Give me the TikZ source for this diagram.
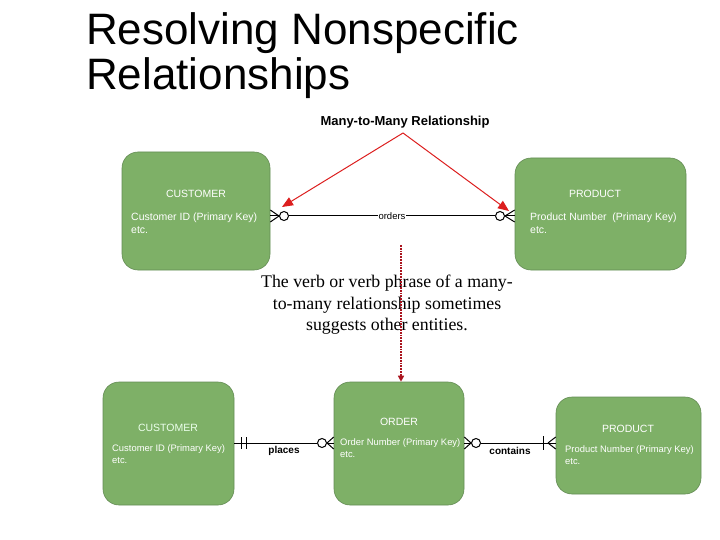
\documentclass[tikz,border=0pt]{standalone}
\usepackage{fontspec}
\setmainfont{Liberation Sans}
\newfontfamily\serifnote{Liberation Serif}
\usetikzlibrary{arrows.meta,calc}
\definecolor{boxgreen}{RGB}{126,176,103}
\definecolor{boxedge}{RGB}{100,140,85}
\definecolor{redarrow}{RGB}{220,30,30}
\definecolor{darkred}{RGB}{170,20,30}
\tikzset{
  entity/.style={draw=boxedge, line width=0.6pt, fill=boxgreen, rounded corners=16pt, inner sep=0pt},
  etitle/.style={text=white, font=\fontsize{10.5}{12}\selectfont, anchor=center},
  eattr/.style={text=white, font=\fontsize{10.5}{13}\selectfont, anchor=north west, align=left, inner sep=0pt},
  battr/.style={text=white, font=\fontsize{9.4}{12.5}\selectfont, anchor=north west, align=left, inner sep=0pt},
  rel/.style={black, line width=1pt},
  rlabel/.style={font=\bfseries\fontsize{10}{12}\selectfont, inner sep=1pt},
  redarr/.style={redarrow, line width=1pt, -{Triangle[length=11pt,width=9pt]}},
  ocircle/.style={draw=black, line width=1pt, fill=white, circle, minimum size=9pt, inner sep=0pt}
}
\begin{document}
\begin{tikzpicture}[x=1pt,y=-1pt]
\useasboundingbox (0,0) rectangle (720,540);
% title
\node[anchor=base west, inner sep=0pt, font=\fontsize{44}{46}\selectfont] (t1) at (86,45) {Resolving Nonspecific};
\node[anchor=base west, inner sep=0pt, font=\fontsize{44}{46}\selectfont] (t2) at (86,90) {Relationships};

% top entities
\node[entity, minimum width=148pt, minimum height=118pt] (c1) at (196,211) {};
\node[etitle] (c1t) at (196,194) {CUSTOMER};
\node[eattr] (c1a) at (131,213) {Customer ID (Primary Key)\\etc.};
\node[entity, minimum width=171pt, minimum height=112pt] (p1) at (600.5,214) {};
\node[etitle] (p1t) at (595,194) {PRODUCT};
\node[eattr] (p1a) at (530,213) {Product Number\ \ (Primary Key)\\etc.};

% orders relationship
\node[ocircle] (oc1) at (284,216) {};
\node[ocircle] (oc2) at (500,216) {};
\draw[rel] (oc1.east) -- node[fill=white, font=\fontsize{9.5}{12}\selectfont, inner sep=1pt] (ord) {orders} (oc2.west);
\draw[rel] (c1.east |- 0,216) -- (oc1.west);
\draw[rel] (oc1.west) -- (c1.east |- 0,210);
\draw[rel] (oc1.west) -- (c1.east |- 0,222);
\draw[rel] (oc2.east) -- (p1.west |- 0,216);
\draw[rel] (oc2.east) -- (p1.west |- 0,210);
\draw[rel] (oc2.east) -- (p1.west |- 0,222);

% many-to-many label and arrows
\node[font=\bfseries\fontsize{13}{15}\selectfont, inner sep=1pt] (mm) at (405,122) {Many-to-Many Relationship};
\coordinate (mmtip) at (403,133);
\coordinate (la) at (282,207);
\coordinate (ra) at (509,211);
\draw[redarr] (mmtip) -- (la);
\draw[redarr] (mmtip) -- (ra);

% note text
\node[font=\serifnote\fontsize{17.8}{21.5}\selectfont, align=center, inner sep=0pt] (note) at (387,305) {The verb or verb phrase of a many-\\to-many relationship sometimes\\suggests other entities.};

% bottom entities
\node[entity, minimum width=131pt, minimum height=123pt] (c2) at (168.5,443.5) {};
\node[etitle, text=white!92!green] (c2t) at (168,428) {CUSTOMER};
\node[battr] (c2a) at (112,444) {Customer ID (Primary Key)\\etc.};
\node[entity, minimum width=130pt, minimum height=123pt] (o2) at (399,443.5) {};
\node[etitle] (o2t) at (399,422) {ORDER};
\node[battr] (o2a) at (340,438) {Order Number (Primary Key)\\etc.};
\node[entity, minimum width=145pt, minimum height=97pt] (p2) at (628.5,445.5) {};
\node[etitle] (p2t) at (628,429) {PRODUCT};
\node[battr] (p2a) at (565,445) {Product Number (Primary Key)\\etc.};

% dotted red arrow
\coordinate (dtop) at (401,245);
\draw[darkred, line width=1.8pt, densely dotted, -{Triangle[length=6pt,width=6pt]}] (dtop) -- (o2.north -| dtop);

% places
\node[ocircle] (oc3) at (322,443) {};
\draw[rel] (c2.east |- 0,443) -- (oc3.west);
\draw[rel] (241,437) -- (241,449);
\draw[rel] (246,437) -- (246,449);
\draw[rel] (oc3.east) -- (o2.west |- 0,443);
\draw[rel] (oc3.east) -- (o2.west |- 0,437);
\draw[rel] (oc3.east) -- (o2.west |- 0,449);
\node[rlabel] (pl) at (284,451) {places};

% contains
\node[ocircle] (oc4) at (476,443) {};
\draw[rel] (o2.east |- 0,443) -- (oc4.west);
\draw[rel] (oc4.west) -- (o2.east |- 0,437);
\draw[rel] (oc4.west) -- (o2.east |- 0,449);
\draw[rel] (oc4.east) -- (p2.west |- 0,443);
\draw[rel] (543,436) -- (543,450);
\draw[rel] (548,443) -- (p2.west |- 0,437);
\draw[rel] (548,443) -- (p2.west |- 0,449);
\node[rlabel] (ct) at (510,451) {contains};
\end{tikzpicture}
\end{document}
